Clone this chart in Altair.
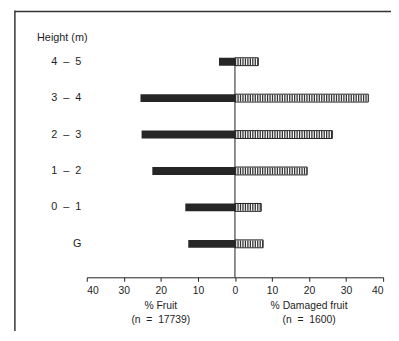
import altair as alt
import pandas as pd

NB = "\u00a0"
heights = [f"4{NB}{NB}–{NB}{NB}5", f"3{NB}{NB}–{NB}{NB}4", f"2{NB}{NB}–{NB}{NB}3",
           f"1{NB}{NB}–{NB}{NB}2", f"0{NB}{NB}–{NB}{NB}1", "G"]
pct_fruit = [4.3, 25.5, 25.2, 22.3, 13.4, 12.6]
pct_damaged = [6.3, 36.0, 26.3, 19.5, 7.1, 7.6]
tick_values = [-40, -30, -20, -10, 0, 10, 20, 30, 40]
left_label = ["%" + NB + "Fruit", f"(n{NB}{NB}={NB}{NB}17739)"]
right_label = ["%" + NB + "Damaged" + NB + "fruit", f"(n{NB}{NB}={NB}{NB}1600)"]

df = pd.DataFrame({
    "height": heights,
    "fruit": [-v for v in pct_fruit],
    "damaged": pct_damaged,
    "zero": [0] * len(heights),
})

FONT = "Liberation Sans"
INK = "#1e1e1e"

xscale = alt.Scale(domain=[-40, 40], nice=False, zero=False)
yscale = alt.Scale(domain=heights, paddingInner=0.784, paddingOuter=0.811)

yaxis = alt.Axis(
    title="Height (m)",
    titleAngle=0,
    titleAlign="left",
    titleBaseline="middle",
    titleX=-51,
    titleY=9,
    titleFont=FONT,
    titleFontSize=11,
    titleFontWeight="normal",
    titleColor=INK,
    labelFont=FONT,
    labelFontSize=11,
    labelColor=INK,
    labelAlign="right",
    labelPadding=6,
    ticks=False,
    domain=False,
    grid=False,
)

xaxis = alt.Axis(
    title=None,
    values=tick_values,
    labelExpr="abs(datum.value)",
    labelOverlap=False,
    labelFont=FONT,
    labelFontSize=10.5,
    labelColor=INK,
    labelPadding=4,
    tickSize=4,
    tickColor=INK,
    domainColor=INK,
    grid=False,
)


def xq(field):
    return alt.X(field, scale=xscale, axis=xaxis, title=None)


def yn(**kw):
    return alt.Y("height:N", scale=yscale, sort=heights, axis=yaxis, title="Height (m)", **kw)


base = alt.Chart(df)

left_bars = base.mark_bar(color="#262626").encode(
    x=xq("fruit:Q"), x2="zero:Q", y=yn()
)

right_bars = base.mark_bar(fill="white", stroke=INK, strokeWidth=1).encode(
    x=xq("zero:Q"), x2="damaged:Q", y=yn()
)

right_hatch = base.mark_rule(
    color="#333", strokeWidth=7, strokeDash=[1.3, 1.2], strokeCap="butt"
).encode(
    x=xq("zero:Q"), x2="damaged:Q", y=yn()
)

zero_df = pd.DataFrame({"height": [heights[0]], "zero": [0]})
zero_line = alt.Chart(zero_df).mark_rule(color=INK, strokeWidth=1).encode(
    x=xq("zero:Q"),
    y=yn(bandPosition=0),
    y2=alt.value(253),
)

ann_df = pd.DataFrame({
    "x": [-20, 20],
    "line1": [left_label[0], right_label[0]],
    "line2": [left_label[1], right_label[1]],
})
ann1 = alt.Chart(ann_df).mark_text(font=FONT, fontSize=10.5, color=INK, baseline="middle").encode(
    x=xq("x:Q"), y=alt.value(282), text="line1:N"
)
ann2 = alt.Chart(ann_df).mark_text(font=FONT, fontSize=10.5, color=INK, baseline="middle").encode(
    x=xq("x:Q"), y=alt.value(296), text="line2:N"
)

frame_left = alt.Chart(zero_df).mark_rule(color="#333", strokeWidth=1.5).encode(
    x=alt.value(-73), y=alt.value(-18), y2=alt.value(320)
)
frame_top = alt.Chart(zero_df).mark_rule(color="#333", strokeWidth=1.5).encode(
    x=alt.value(-73), x2=alt.value(310), y=alt.value(-17)
)

chart = alt.layer(
    left_bars, frame_left, frame_top, right_bars, right_hatch, zero_line, ann1, ann2
).properties(
    width=301,
    height=253,
    padding={"left": 80, "top": 18, "right": 8, "bottom": 52},
    autosize=alt.AutoSizeParams(type="none"),
    background="white",
).configure_view(stroke=None)

chart.save("out.html", embed_options={"renderer": "svg", "actions": False})
